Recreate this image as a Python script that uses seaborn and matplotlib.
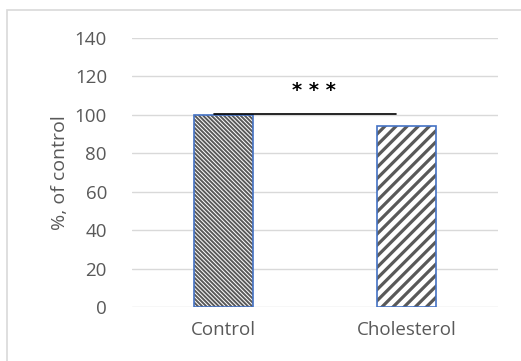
import matplotlib
matplotlib.use("Agg")
import matplotlib.pyplot as plt
import seaborn as sns
import pandas as pd
from matplotlib.patches import Rectangle

categories = ["Control", "Cholesterol"]
values = [100, 94]
y_ticks = [0, 20, 40, 60, 80, 100, 120, 140]
sig_label = "* * *"
sig_level = 100.5

sns.set_theme(style="white")
plt.rcParams['font.family'] = ['Open Sans', 'DejaVu Sans']
plt.rcParams['hatch.linewidth'] = 1.5

df = pd.DataFrame({"group": categories, "value": values})

fig = plt.figure(figsize=(5.21, 3.61), dpi=100)
ax = fig.add_axes([132/521, 1-307/361, (498-132)/521, (307-38)/361])

sns.barplot(data=df, x="group", y="value", ax=ax, width=0.32,
            color="white", edgecolor="#595959", linewidth=0, zorder=2)
hatches = ["\\" * 8, "///"]
hatch_lw = [1.4, 2.3]
for p, h, lw in zip(ax.patches, hatches, hatch_lw):
    p.set_hatch(h)
    p.set_edgecolor("#595959")
    p.set_linewidth(0)
    try:
        p.set_hatch_linewidth(lw)
    except Exception:
        pass
sns.barplot(data=df, x="group", y="value", ax=ax, width=0.32,
            fill=False, edgecolor="#4472C4", linewidth=1.2, zorder=3)

ax.set_xlim(-0.5, 1.5)
ax.set_ylim(0, 140)
ax.set_yticks(y_ticks)
ax.grid(axis="y", color="#D9D9D9", linewidth=1.0, zorder=0)
ax.set_axisbelow(True)
for s in ax.spines.values():
    s.set_visible(False)
ax.tick_params(axis="both", length=0, labelsize=13.5, colors="#595959")
ax.tick_params(axis="y", pad=18)
ax.tick_params(axis="x", pad=10)
ax.set_xlabel("")
ax.set_ylabel("%, of control", fontsize=14, color="#595959", labelpad=4)

ax.plot([-0.05, 0.94], [sig_level, sig_level], color="black", linewidth=1.2, zorder=4)
ax.text(0.495, 110, sig_label, ha="center", va="baseline", family="DejaVu Sans",
        fontsize=14, fontweight="bold", color="black", zorder=4)

fig.patches.append(Rectangle((7/521, -0.1), 1.2, 1 - 10/361 + 0.1,
                             transform=fig.transFigure, fill=False,
                             edgecolor="#D9D9D9", linewidth=1.2))

fig.savefig("out.png", dpi=100)
